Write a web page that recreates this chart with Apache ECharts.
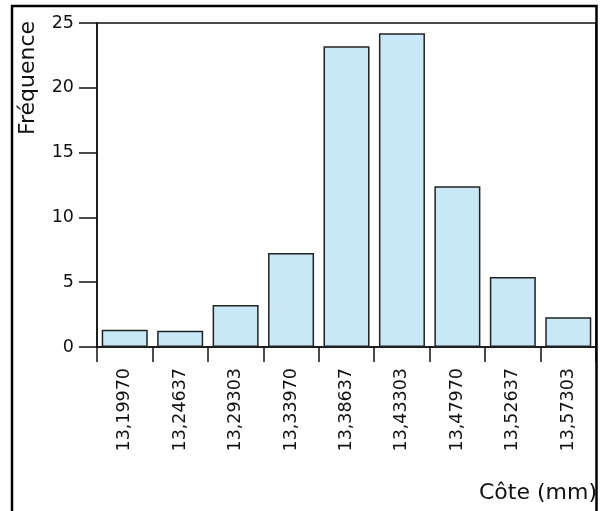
<!DOCTYPE html>
<html>
<head>
<meta charset="utf-8">
<script src="https://cdn.jsdelivr.net/npm/echarts@6/dist/echarts.min.js"></script>
<style>
html,body{margin:0;padding:0;background:#fff;}
#chart{width:604px;height:511px;}
</style>
</head>
<body>
<div id="chart"></div>
<script>
var categories = ['13,19970','13,24637','13,29303','13,33970','13,38637','13,43303','13,47970','13,52637','13,57303'];
var frequencies = [1.33, 1.26, 3.24, 7.25, 23.2, 24.2, 12.4, 5.4, 2.29];
var yTicks = {min: 0, max: 25, interval: 5};
var yName = 'Fréquence';
var xName = 'Côte (mm)';

var chart = echarts.init(document.getElementById('chart'), null, {renderer: 'canvas'});
var font = '"DejaVu Sans", Verdana, sans-serif';
chart.setOption({
  animation: false,
  backgroundColor: '#fff',
  grid: {left: 97, right: 8, top: 23, bottom: 164, show: true, borderColor: '#111', borderWidth: 1.5, backgroundColor: 'transparent'},
  xAxis: {
    type: 'category',
    data: categories,
    boundaryGap: true,
    axisLine: {show: true, lineStyle: {color: '#111', width: 1.5}},
    axisTick: {show: true, length: 15, lineStyle: {color: '#111', width: 1.5}},
    axisLabel: {rotate: 90, fontSize: 17.5, color: '#111', fontFamily: font, margin: 21, interval: 0}
  },
  yAxis: {
    type: 'value',
    min: yTicks.min, max: yTicks.max, interval: yTicks.interval,
    splitLine: {show: false},
    axisLine: {show: true, lineStyle: {color: '#111', width: 1.5}},
    axisTick: {show: true, inside: false, length: 18, lineStyle: {color: '#111', width: 1.5}},
    axisLabel: {fontSize: 17.5, color: '#111', fontFamily: font, margin: 23}
  },
  graphic: [
    {type: 'polyline', shape: {points: [[12, 511], [12, 6], [596.5, 6], [596.5, 511]]}, style: {stroke: '#000', lineWidth: 2.5, fill: null}, z: 100},
    {type: 'text', x: 28, y: 78, rotation: Math.PI / 2, style: {text: yName, fontSize: 22, fontFamily: font, fill: '#111', align: 'center', verticalAlign: 'middle'}},
    {type: 'text', x: 597, y: 493, style: {text: xName, fontSize: 22, fontFamily: font, fill: '#111', align: 'right', verticalAlign: 'middle'}}
  ],
  series: [{
    type: 'bar',
    data: frequencies,
    barCategoryGap: '17%',
    itemStyle: {color: '#c8e8f8', borderColor: '#222', borderWidth: 1.5}
  }]
});
</script>
</body>
</html>
